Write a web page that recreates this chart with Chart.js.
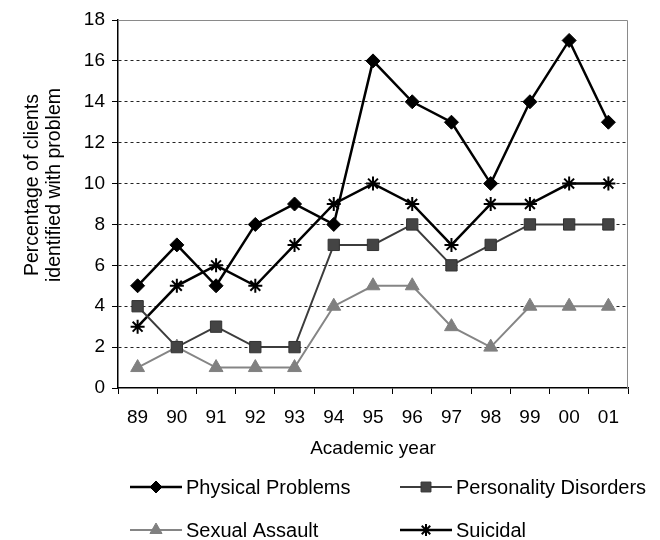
<!DOCTYPE html>
<html>
<head>
<meta charset="utf-8">
<script src="https://cdn.jsdelivr.net/npm/chart.js@4.4.1/dist/chart.umd.min.js"></script>
<style>
  html, body { margin: 0; padding: 0; background: #fff; }
</style>
</head>
<body>
<canvas id="problemsChart" width="660" height="540"></canvas>
<script>
// data
const years = ['89', '90', '91', '92', '93', '94', '95', '96', '97', '98', '99', '00', '01'];
const physical = [5, 7, 5, 8, 9, 8, 16, 14, 13, 10, 14, 17, 13];
const personality = [4, 2, 3, 2, 2, 7, 7, 8, 6, 7, 8, 8, 8];
const sexualAssault = [1, 2, 1, 1, 1, 4, 5, 5, 3, 2, 4, 4, 4];
const suicidal = [3, 5, 6, 5, 7, 9, 10, 9, 7, 9, 9, 10, 10];
const yTicks = [0, 2, 4, 6, 8, 10, 12, 14, 16, 18];

const FONT = "'Liberation Sans', Arial, sans-serif";

// grey frame on top/right of plot
const plotFrame = {
  id: 'plotFrame',
  beforeDatasetsDraw(chart) {
    const a = chart.chartArea;
    const ctx = chart.ctx;
    ctx.save();
    ctx.strokeStyle = '#8a8a8a';
    ctx.lineWidth = 1;
    ctx.beginPath();
    ctx.moveTo(a.left, a.top + 0.5);
    ctx.lineTo(a.right - 0.5, a.top + 0.5);
    ctx.lineTo(a.right - 0.5, a.bottom);
    ctx.stroke();
    ctx.restore();
  }
};

// legend in two columns under the axis title
const bottomLegend = {
  id: 'bottomLegend',
  afterDraw(chart) {
    const ctx = chart.ctx;
    const slots = [{x: 130, y: 487}, {x: 400, y: 487}, {x: 130, y: 530}, {x: 400, y: 530}];
    chart.data.datasets.forEach((ds, i) => {
      const s = slots[i];
      ctx.save();
      ctx.strokeStyle = ds.borderColor;
      ctx.lineWidth = ds.borderWidth;
      ctx.beginPath();
      ctx.moveTo(s.x, s.y);
      ctx.lineTo(s.x + 52, s.y);
      ctx.stroke();
      ctx.fillStyle = ds.pointBackgroundColor;
      ctx.strokeStyle = ds.pointBorderColor;
      ctx.lineWidth = ds.pointBorderWidth;
      Chart.helpers.drawPoint(ctx, {
        pointStyle: ds.pointStyle,
        radius: ds.pointRadius - 1,
        borderWidth: ds.pointBorderWidth,
        rotation: 0
      }, s.x + 26, s.y);
      ctx.fillStyle = '#000';
      ctx.font = '20px ' + FONT;
      ctx.textBaseline = 'middle';
      ctx.textAlign = 'left';
      ctx.fillText(ds.label, s.x + 56, s.y + 1);
      ctx.restore();
    });
  }
};

const ctx = document.getElementById('problemsChart').getContext('2d');
const problemsChart = new Chart(ctx, {
  type: 'line',
  data: {
    labels: years,
    datasets: [
      {
        label: 'Physical Problems',
        data: physical,
        borderColor: '#000',
        borderWidth: 2.5,
        pointStyle: 'rectRot',
        pointRadius: 7,
        pointBackgroundColor: '#000',
        pointBorderColor: '#000',
        pointBorderWidth: 1
      },
      {
        label: 'Personality Disorders',
        data: personality,
        borderColor: '#3c3c3c',
        borderWidth: 2,
        pointStyle: 'rect',
        pointRadius: 8,
        pointBackgroundColor: '#444',
        pointBorderColor: '#333',
        pointBorderWidth: 1
      },
      {
        label: 'Sexual Assault',
        data: sexualAssault,
        borderColor: '#858585',
        borderWidth: 2,
        pointStyle: 'triangle',
        pointRadius: 8,
        pointBackgroundColor: '#808080',
        pointBorderColor: '#808080',
        pointBorderWidth: 1
      },
      {
        label: 'Suicidal',
        data: suicidal,
        borderColor: '#000',
        borderWidth: 2.5,
        pointStyle: 'star',
        pointRadius: 7,
        pointBackgroundColor: '#000',
        pointBorderColor: '#000',
        pointBorderWidth: 2
      }
    ]
  },
  options: {
    responsive: false,
    animation: false,
    events: [],
    layout: { padding: { top: 20, right: 32, bottom: 76, left: 0 } },
    plugins: {
      legend: { display: false },
      tooltip: { enabled: false }
    },
    scales: {
      x: {
        offset: true,
        grid: {
          display: true,
          drawOnChartArea: false,
          offset: true,
          tickLength: 6,
          color: '#000',
          lineWidth: 1
        },
        border: { color: '#000', width: 1.5 },
        ticks: {
          color: '#000',
          padding: 12,
          maxRotation: 0,
          autoSkip: false,
          font: { family: FONT, size: 19 }
        },
        title: {
          display: true,
          text: 'Academic year',
          color: '#000',
          padding: { top: 4, bottom: 4 },
          font: { family: FONT, size: 19 }
        },
        afterFit(scale) { scale.height = 76; }
      },
      y: {
        min: 0,
        max: 18,
        afterBuildTicks(scale) { scale.ticks = yTicks.map(v => ({ value: v })); },
        grid: {
          color: c => (c.tick && (c.tick.value === 0 || c.tick.value === 18)) ? 'rgba(0,0,0,0)' : '#222',
          tickColor: '#000',
          tickLength: 6,
          lineWidth: 1
        },
        border: { color: '#000', width: 1.5, dash: [3, 3] },
        ticks: {
          color: '#000',
          padding: 7,
          font: { family: FONT, size: 19 }
        },
        title: {
          display: true,
          // leading spaces nudge the rotated title up a bit, like the original
          text: ['       Percentage of clients', '       identified with problem'],
          color: '#000',
          padding: { top: 22, bottom: 0 },
          font: { family: FONT, size: 19.5, lineHeight: 1.1 }
        },
        afterFit(scale) { scale.width = 118; }
      }
    }
  },
  plugins: [plotFrame, bottomLegend]
});
</script>
</body>
</html>
